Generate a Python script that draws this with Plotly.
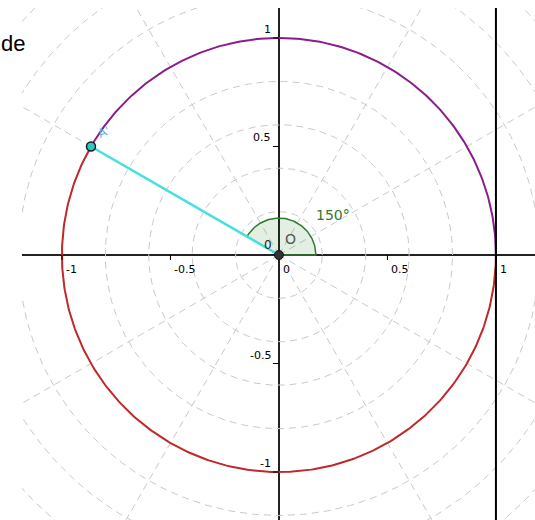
import numpy as np
import plotly.graph_objects as go

# ---- data ----
angle_deg = 150            # angle of point A'
radius = 1.0               # unit circle
sector_r = 0.17            # radius of the angle marker
x_ticks = [-1, -0.5, 0, 0.5, 1]
x_tick_labels = ["-1", "-0.5", "0", "0.5", "1"]
y_ticks = [1, 0.5, -0.5, -1]
y_tick_labels = ["1", "0.5", "-0.5", "-1"]
grid_radii = [0.2, 0.4, 0.6, 0.8, 1.0, 1.2, 1.4, 1.6, 1.8]
grid_angles = [30, 60, 120, 150, 210, 240, 300, 330]
x_range = [-1.184, 1.180]
y_range = [-1.221, 1.138]
line_x = 1.0

fig = go.Figure()

# polar dashed grid
t = np.linspace(0, 2 * np.pi, 400)
for r in grid_radii:
    fig.add_trace(go.Scatter(x=r * np.cos(t), y=r * np.sin(t), mode="lines",
                             line=dict(color="#c9c9c9", width=1, dash="7px,5px"),
                             hoverinfo="skip", showlegend=False))
for a in grid_angles:
    ar = np.radians(a)
    fig.add_trace(go.Scatter(x=[0, 2 * np.cos(ar)], y=[0, 2 * np.sin(ar)], mode="lines",
                             line=dict(color="#c9c9c9", width=1, dash="7px,5px"),
                             hoverinfo="skip", showlegend=False))

# unit circle: purple arc 0..150, red arc 150..360
ta = np.radians(np.linspace(0, angle_deg, 200))
fig.add_trace(go.Scatter(x=radius * np.cos(ta), y=radius * np.sin(ta), mode="lines",
                         line=dict(color="#8c1c8c", width=2), hoverinfo="skip", showlegend=False))
tb = np.radians(np.linspace(angle_deg, 360, 300))
fig.add_trace(go.Scatter(x=radius * np.cos(tb), y=radius * np.sin(tb), mode="lines",
                         line=dict(color="#c0282a", width=2), hoverinfo="skip", showlegend=False))

# angle sector
ts = np.radians(np.linspace(0, angle_deg, 100))
sx = np.concatenate([[0], sector_r * np.cos(ts), [0]])
sy = np.concatenate([[0], sector_r * np.sin(ts), [0]])
fig.add_trace(go.Scatter(x=sx, y=sy, mode="lines", fill="toself",
                         fillcolor="rgba(0,110,0,0.11)",
                         line=dict(color="#2f7a2f", width=1.5), hoverinfo="skip", showlegend=False))

# segment O -> A'
ax_ = radius * np.cos(np.radians(angle_deg))
ay_ = radius * np.sin(np.radians(angle_deg))
fig.add_trace(go.Scatter(x=[0, ax_], y=[0, ay_], mode="lines",
                         line=dict(color="#45e0e0", width=2.5), hoverinfo="skip", showlegend=False))

# vertical line x = 1
fig.add_vline(x=line_x, line=dict(color="black", width=2))

# points
fig.add_trace(go.Scatter(x=[ax_], y=[ay_], mode="markers",
                         marker=dict(size=9, color="#2cc8c8", line=dict(color="#1a1a1a", width=1.5)),
                         hoverinfo="skip", showlegend=False))
fig.add_trace(go.Scatter(x=[0], y=[0], mode="markers",
                         marker=dict(size=9, color="#333333", line=dict(color="#111111", width=1)),
                         hoverinfo="skip", showlegend=False))

tick_font = dict(family="DejaVu Sans", size=11, color="black")
# x tick labels and tick marks
for v, lab in zip(x_ticks, x_tick_labels):
    fig.add_annotation(x=v, y=0, text=lab, showarrow=False, xanchor="left", yanchor="top",
                       xshift=2, yshift=-6, font=tick_font)
    if v != 0:
        fig.add_shape(type="line", xref="x", yref="y", x0=v, x1=v, y0=0, y1=-5,
                      ysizemode="pixel", yanchor=0, line=dict(color="black", width=1))
# y tick labels and tick marks
for v, lab in zip(y_ticks, y_tick_labels):
    fig.add_annotation(x=0, y=v, text=lab, showarrow=False, xanchor="right", yanchor="bottom",
                       xshift=-6, yshift=0, font=tick_font)
    fig.add_shape(type="line", xref="x", yref="y", x0=0, x1=-6, y0=v, y1=v,
                  xsizemode="pixel", xanchor=0, line=dict(color="black", width=1))

# labels
fig.add_annotation(x=0, y=0, text="0", showarrow=False, xanchor="right", yanchor="bottom",
                   xshift=-5, yshift=1, font=dict(family="DejaVu Sans", size=12, color="#222"))
fig.add_annotation(x=0, y=0, text="O", showarrow=False, xanchor="left", yanchor="bottom",
                   xshift=4, yshift=6, font=dict(family="DejaVu Sans", size=14, color="#555"))
fig.add_annotation(x=0.249, y=0.184, text="150°", showarrow=False,
                   font=dict(family="DejaVu Sans", size=14, color="#2f7a2f"))
fig.add_annotation(x=ax_, y=ay_, text="A'", showarrow=False, xanchor="left", yanchor="bottom",
                   xshift=2, yshift=3, textangle=-25,
                   font=dict(family="DejaVu Sans", size=12, color="#55b8ee"))
fig.add_annotation(xref="paper", yref="paper", x=0, y=0.932, text="de", showarrow=False,
                   xanchor="right", xshift=5, yshift=14,
                   font=dict(family="Liberation Sans", size=22, color="black"))

fig.update_xaxes(range=x_range, showgrid=False, showticklabels=False, ticks="",
                 zeroline=True, zerolinecolor="#222", zerolinewidth=1.5)
fig.update_yaxes(range=y_range, showgrid=False, showticklabels=False, ticks="",
                 zeroline=True, zerolinecolor="#222", zerolinewidth=1.5)
fig.update_layout(width=535, height=520, margin=dict(l=22, r=0, t=8, b=0),
                  plot_bgcolor="white", paper_bgcolor="white", showlegend=False)

fig.write_html("out.html", config={"displayModeBar": False},
               post_script="document.body.style.margin='0';")
